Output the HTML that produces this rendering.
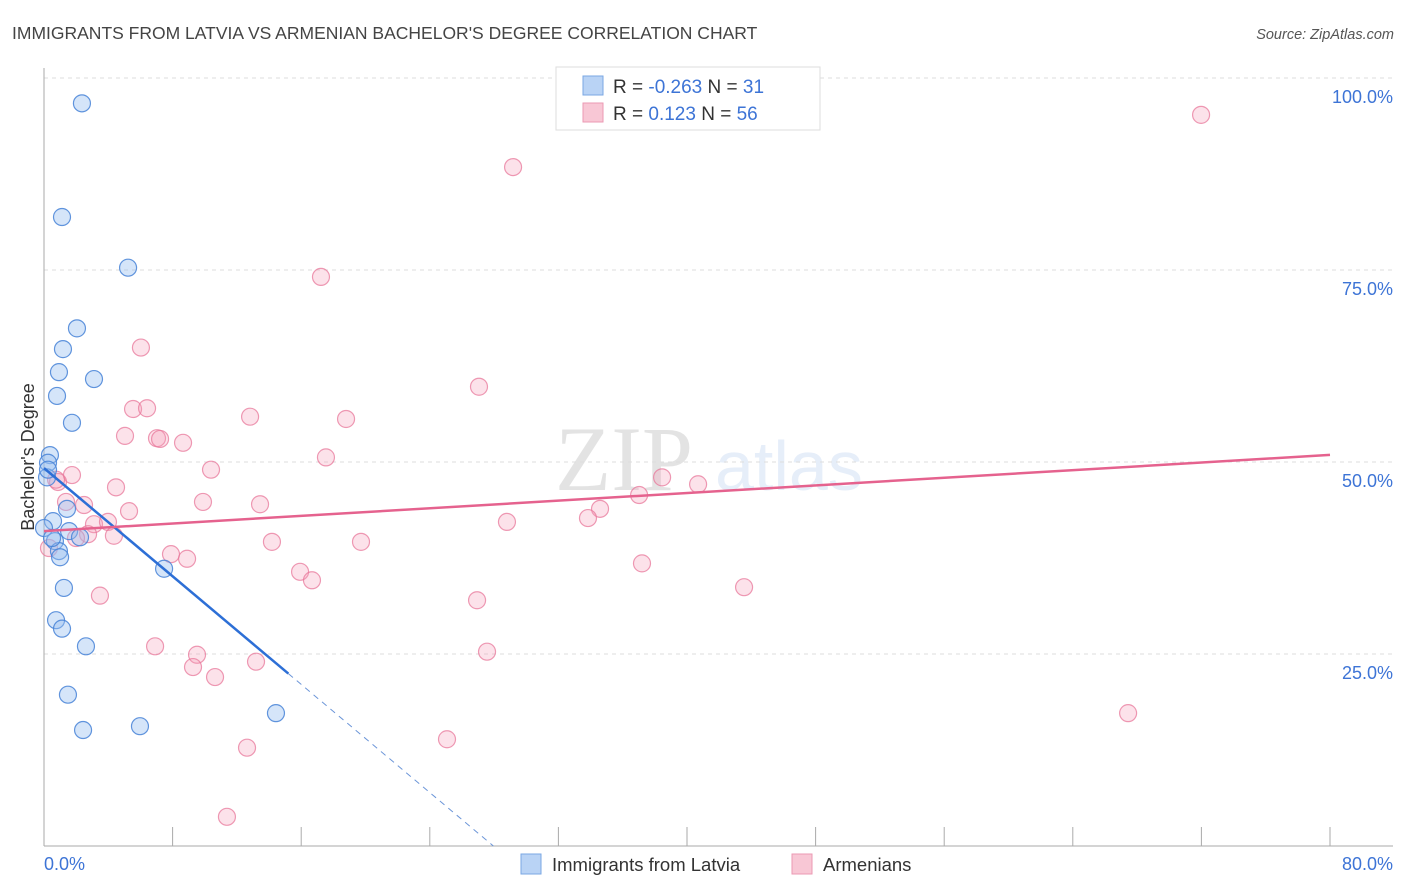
<!DOCTYPE html>
<html><head><meta charset="utf-8"><style>
body{margin:0;background:#fff;font-family:"Liberation Sans",sans-serif}
svg{display:block}
</style></head><body>
<svg id="chart" width="1406" height="892" xmlns="http://www.w3.org/2000/svg">
<text x="12" y="39" font-size="17.5" fill="#444" font-family="Liberation Sans">IMMIGRANTS FROM LATVIA VS ARMENIAN BACHELOR'S DEGREE CORRELATION CHART</text>
<text x="1394" y="39" font-size="14.5" fill="#555" font-style="italic" text-anchor="end">Source: ZipAtlas.com</text>
<g opacity="0.13"><text x="555" y="490" font-size="92" font-family="Liberation Serif" fill="#333">ZIP</text><text x="715" y="490" font-size="70" fill="#4a7fd4">atlas</text></g>
<g id="grid"></g>
<g id="axes"></g>
<g id="marks"></g>
<g>
<rect x="556" y="67" width="264" height="63" fill="#fff" stroke="#ddd"/>
<rect x="583" y="76" width="20" height="19" fill="#b9d3f5" stroke="#7aa7e3"/>
<rect x="583" y="103" width="20" height="19" fill="#f8c7d5" stroke="#eb9ab3"/>
<text x="613" y="93" font-size="19" fill="#333">R = <tspan fill="#3d74d6">-0.263</tspan>   N =  <tspan fill="#3d74d6">31</tspan></text>
<text x="613" y="120" font-size="19" fill="#333">R =    <tspan fill="#3d74d6">0.123</tspan>   N = <tspan fill="#3d74d6">56</tspan></text>
</g>
<g>
<rect x="521" y="854" width="20" height="20" fill="#b9d3f5" stroke="#7aa7e3"/>
<text x="552" y="871" font-size="18.5" fill="#333">Immigrants from Latvia</text>
<rect x="792" y="854" width="20" height="20" fill="#f8c7d5" stroke="#eb9ab3"/>
<text x="823" y="871" font-size="18.5" fill="#333">Armenians</text>
</g>
<text transform="translate(34,457) rotate(-90)" font-size="18" fill="#333" text-anchor="middle">Bachelor's Degree</text>
</svg>
<script>
const blueX=[2.36,1.12,5.23,2.05,1.18,0.93,3.11,0.81,1.74,0.37,0.25,0.19,0.56,1.43,1.56,2.24,0.68,0.93,1.0,7.47,1.24,0.75,1.12,2.61,1.49,2.43,5.97,14.43,0.0,0.25,0.5];
const blueY=[96.7,81.9,75.3,67.4,64.7,61.7,60.8,58.6,55.1,50.9,49.9,48.0,42.3,43.9,41.0,40.2,39.7,38.4,37.6,36.1,33.6,29.4,28.3,26.0,19.7,15.1,15.6,17.3,41.4,49.0,40.1];
const pinkX=[71.98,29.18,17.23,6.03,27.06,5.54,6.41,12.82,18.79,5.04,7.03,7.22,8.65,17.54,10.39,1.74,0.87,0.75,38.45,40.69,4.48,37.02,1.37,9.89,13.44,2.49,5.29,34.59,33.84,28.8,3.11,3.98,2.74,4.35,1.99,14.18,19.72,0.31,7.9,8.9,37.2,15.93,16.67,43.55,3.48,26.94,6.91,9.52,27.56,13.19,9.27,10.64,67.44,25.07,12.63,11.38];
const pinkY=[95.2,88.4,74.1,64.9,59.8,56.9,57.0,55.9,55.6,53.4,53.1,53.0,52.5,50.6,49.0,48.3,47.4,47.7,48.0,47.1,46.7,45.7,44.8,44.8,44.5,44.4,43.6,43.9,42.7,42.2,41.9,42.2,40.6,40.4,40.1,39.6,39.6,38.8,38.0,37.4,36.8,35.7,34.6,33.7,32.6,32.0,26.0,24.9,25.3,24.0,23.3,22.0,17.3,13.9,12.8,3.8];
const blueTrend=[49.2,-1.76]; // intercept, slope
const pinkTrend=[41.0,0.124];
const yTicks=[25,50,75,100];
const yTickLabels=["25.0%","50.0%","75.0%","100.0%"];
const xTickVals=[0,8,16,24,32,40,48,56,64,72,80];

const NS="http://www.w3.org/2000/svg";
const X=v=>44+v/80*1286;
const Y=v=>846-v/100*768;
function mk(t,a,p){const e=document.createElementNS(NS,t);for(const k in a)e.setAttribute(k,a[k]);p.appendChild(e);return e;}
const grid=document.getElementById('grid'),axes=document.getElementById('axes'),marks=document.getElementById('marks');
yTicks.forEach((v,i)=>{
 const l=mk('line',{x1:44,x2:1393,y1:Y(v),y2:Y(v),stroke:'#ddd','stroke-dasharray':'4,4'},grid);
 
 
 const t=mk('text',{x:1393,y:Y(v)+25,'font-size':18,fill:'#3d74d6','text-anchor':'end'},axes);
 t.textContent=yTickLabels[i];
 
 
});
const la=mk('line',{x1:44,x2:44,y1:68,y2:846,stroke:'#aaa'},axes);


const lb=mk('line',{x1:44,x2:1393,y1:846,y2:846,stroke:'#aaa'},axes);


xTickVals.forEach(v=>{const t=mk('line',{x1:X(v),x2:X(v),y1:827,y2:846,stroke:'#aaa'},axes);
 
 });
let t0=mk('text',{x:44,y:870,'font-size':18,fill:'#3d74d6'},axes);t0.textContent=xTickVals[0].toFixed(1)+'%';


let t1=mk('text',{x:1393,y:870,'font-size':18,fill:'#3d74d6','text-anchor':'end'},axes);t1.textContent=xTickVals[xTickVals.length-1].toFixed(1)+'%';


function dots(xs,ys,fill,stroke,name){xs.forEach((x,i)=>{const c=mk('circle',{cx:X(x),cy:Y(ys[i]),r:8.5,fill:fill,stroke:stroke,'stroke-width':1.2},marks);
 
 });}
dots(pinkX,pinkY,'rgba(244,160,185,0.3)','rgba(232,120,155,0.75)','armenian-point');
dots(blueX,blueY,'rgba(150,190,240,0.4)','rgba(70,130,215,0.85)','latvia-point');
// trends
const bEnd=15.2, bZero=-blueTrend[0]/blueTrend[1];
const bl=mk('line',{x1:X(0),y1:Y(blueTrend[0]),x2:X(bEnd),y2:Y(blueTrend[0]+blueTrend[1]*bEnd),stroke:'#2d6fd6','stroke-width':2.5},marks);


const bd=mk('line',{x1:X(bEnd),y1:Y(blueTrend[0]+blueTrend[1]*bEnd),x2:X(bZero),y2:Y(0),stroke:'#6b95d8','stroke-width':1,'stroke-dasharray':'6,5'},marks);


const pl=mk('line',{x1:X(0),y1:Y(pinkTrend[0]),x2:X(80),y2:Y(pinkTrend[0]+pinkTrend[1]*80),stroke:'#e5628e','stroke-width':2.5},marks);


</script>
</body></html>
